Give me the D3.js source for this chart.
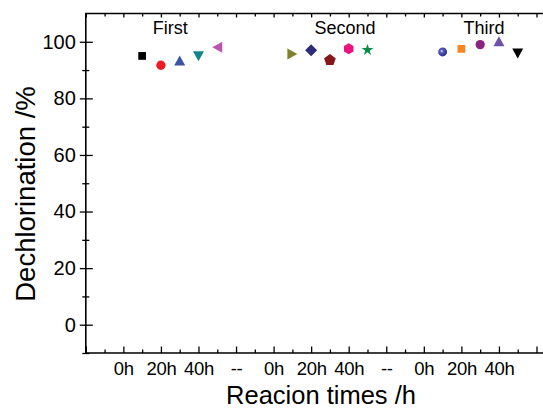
<!DOCTYPE html>
<html><head><meta charset="utf-8">
<script src="https://cdn.jsdelivr.net/npm/d3@7"></script>
<style>html,body{margin:0;padding:0;background:#fff;overflow:hidden}</style>
</head><body>
<script>
// ---- data ----
const tickLabels = ["", "0h", "20h", "40h", "--", "0h", "20h", "40h", "--", "0h", "20h", "40h", ""];
const runNames = ["First", "Second", "Third"];
const runCenters = [2.25, 6.9, 10.6];
const firstX = [1.5, 2, 2.5, 3, 3.5];
const firstY = [95.0, 91.7, 93.4, 94.9, 98.1];
const secondX = [5.5, 6, 6.5, 7, 7.5];
const secondY = [95.7, 97.0, 93.5, 97.5, 97.1];
const thirdX = [9.5, 10, 10.5, 11, 11.5];
const thirdY = [96.4, 97.5, 99.0, 100.2, 95.9];
const yTicks = [0, 20, 40, 60, 80, 100];

// ---- styles ----
const firstShapes = ["square", "circle", "triUp", "triDown", "triLeft"];
const firstColors = ["#000000", "#ee1c25", "#3b54a5", "#138589", "#bc55b0"];
const secondShapes = ["triRight", "diamond", "pentagon", "hexagon", "star"];
const secondColors = ["#80802f", "#2b2d7c", "#881719", "#ec1380", "#0b8a48"];
const thirdShapes = ["sphere", "square", "circle", "triUp", "triDown"];
const thirdColors = ["#2e3192", "#f6861f", "#8a2380", "#6d53a7", "#000000"];

const FONT = "'Liberation Sans', Arial, sans-serif";
const W = 543, H = 410;
const svg = d3.select("body").append("svg").attr("width", W).attr("height", H)
  .style("font-family", FONT);

const L = 85.8, T = 13.5, B = 353, R = 560;
const x = d3.scaleLinear().domain([0, 12]).range([L, 536.5]);
const y = d3.scaleLinear().domain([-10, 110]).range([B, T]);

const defs = svg.append("defs");
const grad = defs.append("radialGradient").attr("id", "sph").attr("cx", "40%").attr("cy", "40%").attr("r", "60%");
grad.append("stop").attr("offset", "0%").attr("stop-color", "#e8eaff");
grad.append("stop").attr("offset", "30%").attr("stop-color", "#5a5fc0");
grad.append("stop").attr("offset", "100%").attr("stop-color", "#262a86");

function clean(g) {
  g.attr("font-family", FONT);
  g.select(".domain").remove();
  g.selectAll("line").attr("stroke-width", 1.3);
  g.selectAll("text").attr("fill", "#000");
}

// axes
const minorX = d3.range(0.5, 12.5, 1);
svg.append("g").attr("transform", `translate(0,${B})`)
  .call(d3.axisBottom(x).tickValues(d3.range(0, 13)).tickFormat((d) => tickLabels[d])
    .tickSizeInner(-6.5).tickSizeOuter(0).tickPadding(9))
  .call(clean).call(g => g.selectAll("text").attr("font-size", 18.5).attr("letter-spacing", -0.3));
svg.append("g").attr("transform", `translate(0,${B})`)
  .call(d3.axisBottom(x).tickValues(minorX).tickFormat("").tickSizeInner(-3.5).tickSizeOuter(0))
  .call(clean);
svg.append("g").attr("transform", `translate(0,${T})`)
  .call(d3.axisTop(x).tickValues(d3.range(0, 13)).tickFormat("").tickSizeInner(-4).tickSizeOuter(0))
  .call(clean);
svg.append("g").attr("transform", `translate(0,${T})`)
  .call(d3.axisTop(x).tickValues(minorX).tickFormat("").tickSizeInner(-3).tickSizeOuter(0))
  .call(clean);

// left axis: ticks cross the axis line
svg.append("g").attr("transform", `translate(${L},0)`)
  .call(d3.axisLeft(y).tickValues(yTicks).tickSizeInner(6).tickSizeOuter(0).tickPadding(4))
  .call(clean).call(g => g.selectAll("text").attr("font-size", 20));
svg.append("g").attr("transform", `translate(${L},0)`)
  .call(d3.axisLeft(y).tickValues(yTicks).tickFormat("").tickSizeInner(-7).tickSizeOuter(0))
  .call(clean);
svg.append("g").attr("transform", `translate(${L},0)`)
  .call(d3.axisLeft(y).tickValues([-10, 10, 30, 50, 70, 90]).tickFormat("").tickSizeInner(3.5).tickSizeOuter(0))
  .call(clean);
svg.append("g").attr("transform", `translate(${L},0)`)
  .call(d3.axisLeft(y).tickValues([-10, 10, 30, 50, 70, 90]).tickFormat("").tickSizeInner(-3.5).tickSizeOuter(0))
  .call(clean);

// frame
svg.append("path").attr("d", `M${R},${T}H${L}V${B}H${R}`).attr("fill", "none")
  .attr("stroke", "#000").attr("stroke-width", 1.6);

// titles
svg.append("text").attr("x", 321).attr("y", 404).attr("text-anchor", "middle")
  .attr("font-size", 25.5).text("Reacion times /h");
svg.append("text").attr("transform", "translate(35,194) rotate(-90)").attr("text-anchor", "middle")
  .attr("font-size", 27.5).text("Dechlorination /%");

svg.selectAll("text.run").data(runNames).join("text").attr("class", "run")
  .attr("x", (d, i) => x(runCenters[i])).attr("y", 34).attr("text-anchor", "middle")
  .attr("font-size", 18).text(d => d);

// marker shapes
function poly(n, r, rot) {
  return { draw(ctx) {
    for (let k = 0; k < n; k++) {
      const a = rot + k * 2 * Math.PI / n;
      const px = r * Math.sin(a), py = -r * Math.cos(a);
      if (k === 0) ctx.moveTo(px, py); else ctx.lineTo(px, py);
    }
    ctx.closePath();
  } };
}
function tri(dir) {
  return { draw(ctx) {
    const w = 11, h = 10;
    let pts;
    if (dir === "up") pts = [[0, -h / 2], [w / 2, h / 2], [-w / 2, h / 2]];
    else if (dir === "down") pts = [[0, h / 2], [w / 2, -h / 2], [-w / 2, -h / 2]];
    else if (dir === "left") pts = [[-h / 2, 0], [h / 2, -w / 2], [h / 2, w / 2]];
    else pts = [[h / 2, 0], [-h / 2, -w / 2], [-h / 2, w / 2]];
    ctx.moveTo(pts[0][0], pts[0][1]); ctx.lineTo(pts[1][0], pts[1][1]); ctx.lineTo(pts[2][0], pts[2][1]); ctx.closePath();
  } };
}
const shapeTypes = {
  square: { type: d3.symbolSquare, size: 60 },
  circle: { type: d3.symbolCircle, size: 68 },
  sphere: { type: d3.symbolCircle, size: 62 },
  triUp: { type: tri("up"), size: 1 },
  triDown: { type: tri("down"), size: 1 },
  triLeft: { type: tri("left"), size: 1 },
  triRight: { type: tri("right"), size: 1 },
  diamond: { type: poly(4, 6, 0), size: 1 },
  pentagon: { type: poly(5, 6.1, 0), size: 1 },
  hexagon: { type: poly(6, 5.5, 0), size: 1 },
  star: { type: d3.symbolStar, size: 42 }
};

const groups = [
  [firstX, firstY, firstShapes, firstColors],
  [secondX, secondY, secondShapes, secondColors],
  [thirdX, thirdY, thirdShapes, thirdColors]
];
groups.forEach(([xs, ys, shapes, colors]) => {
  const pts = xs.map((v, i) => ({ x: v, y: ys[i], s: shapes[i], c: colors[i] }));
  svg.append("g").selectAll("path").data(pts).join("path")
    .attr("transform", d => `translate(${x(d.x)},${y(d.y)})`)
    .attr("d", d => d3.symbol().type(shapeTypes[d.s].type).size(shapeTypes[d.s].size)())
    .attr("fill", d => d.s === "sphere" ? "url(#sph)" : d.c);
});
</script>
</body></html>
